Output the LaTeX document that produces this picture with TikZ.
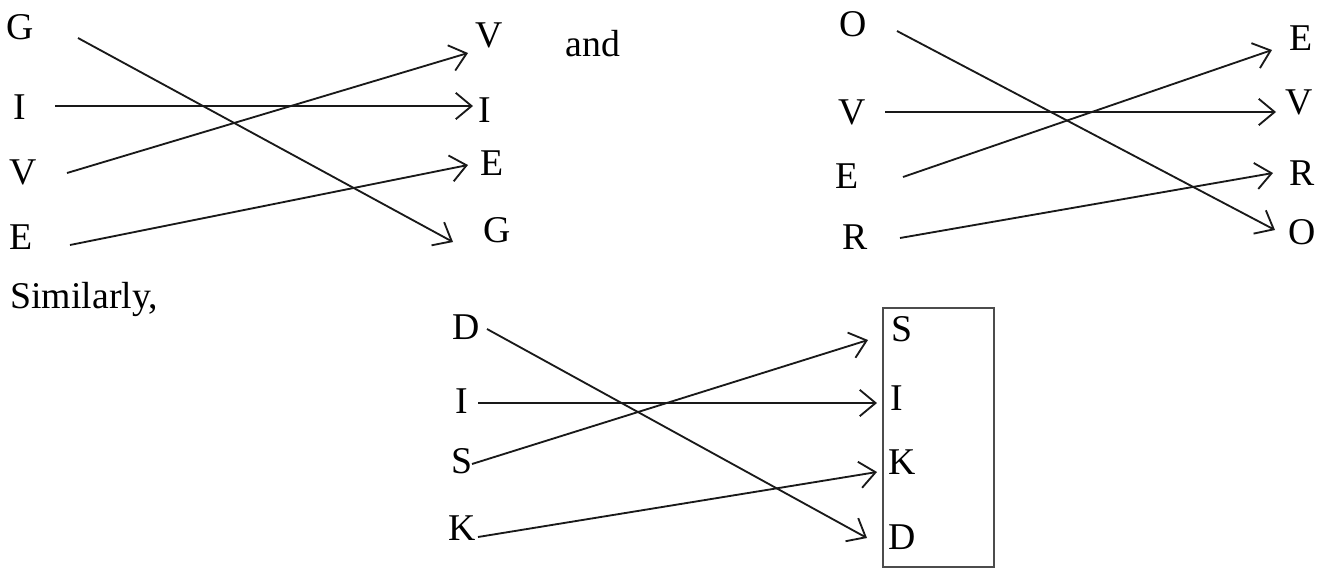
\documentclass[tikz,border=0pt]{standalone}
\usepackage{fontspec}
\setmainfont{Liberation Serif}
\usetikzlibrary{arrows.meta}
\begin{document}
\begin{tikzpicture}[x=0.02cm,y=-0.02cm,
  letter/.style={inner sep=0pt,font=\fontsize{21.5}{25}\selectfont},
  link/.style={-{Straight Barb[length=9pt,width=15pt]},line width=1.05pt,black!90}]
\useasboundingbox (0,0) rectangle (1330,569);
\node[letter] (g1) at (20,27) {G};
\node[letter] (i1) at (20,107) {I};
\node[letter] (v1) at (23,172) {V};
\node[letter] (e1) at (21,237) {E};
\node[letter] (v2) at (489,35) {V};
\node[letter] (i2) at (485,110) {I};
\node[letter] (e2) at (492,163) {E};
\node[letter] (g2) at (497,230) {G};
\draw[link] ([shift={(58,11)}]g1.center) -- ([shift={(-44,12)}]g2.center);
\draw[link] ([shift={(35,-1)}]i1.center) -- ([shift={(-12,-4)}]i2.center);
\draw[link] ([shift={(44,1)}]v1.center) -- ([shift={(-21,18)}]v2.center);
\draw[link] ([shift={(49,8)}]e1.center) -- ([shift={(-24,2)}]e2.center);
\node[letter,anchor=base west] (and) at (565,56) {and};
\node[letter] (o3) at (853,24) {O};
\node[letter] (v3) at (852,112) {V};
\node[letter] (e3) at (847,176) {E};
\node[letter] (r3) at (855,237) {R};
\node[letter] (e4) at (1301,38) {E};
\node[letter] (v4) at (1299,102) {V};
\node[letter] (r4) at (1302,173) {R};
\node[letter] (o4) at (1302,232) {O};
\draw[link] ([shift={(44,7)}]o3.center) -- ([shift={(-27,-2)}]o4.center);
\draw[link] ([shift={(33,0)}]v3.center) -- ([shift={(-23,10)}]v4.center);
\draw[link] ([shift={(56,1)}]e3.center) -- ([shift={(-29,12)}]e4.center);
\draw[link] ([shift={(45,1)}]r3.center) -- ([shift={(-29,0)}]r4.center);
\node[letter,anchor=base west] (sim) at (10,308) {Similarly,};
\node[letter] (d5) at (466,327) {D};
\node[letter] (i5) at (462,401) {I};
\node[letter] (s5) at (462,461) {S};
\node[letter] (k5) at (462,528) {K};
\node[letter] (s6) at (902,329) {S};
\node[letter] (i6) at (897,398) {I};
\node[letter] (k6) at (902,462) {K};
\node[letter] (d6) at (902,537) {D};
\draw[line width=0.7pt,black!70] (883,308) rectangle (994,567);
\draw[link] ([shift={(21,2)}]d5.center) -- ([shift={(-35,1)}]d6.center);
\draw[link] ([shift={(16,2)}]i5.center) -- ([shift={(-20,5)}]i6.center);
\draw[link] ([shift={(10,3)}]s5.center) -- ([shift={(-34,11)}]s6.center);
\draw[link] ([shift={(16,9)}]k5.center) -- ([shift={(-25,10)}]k6.center);
\end{tikzpicture}
\end{document}
